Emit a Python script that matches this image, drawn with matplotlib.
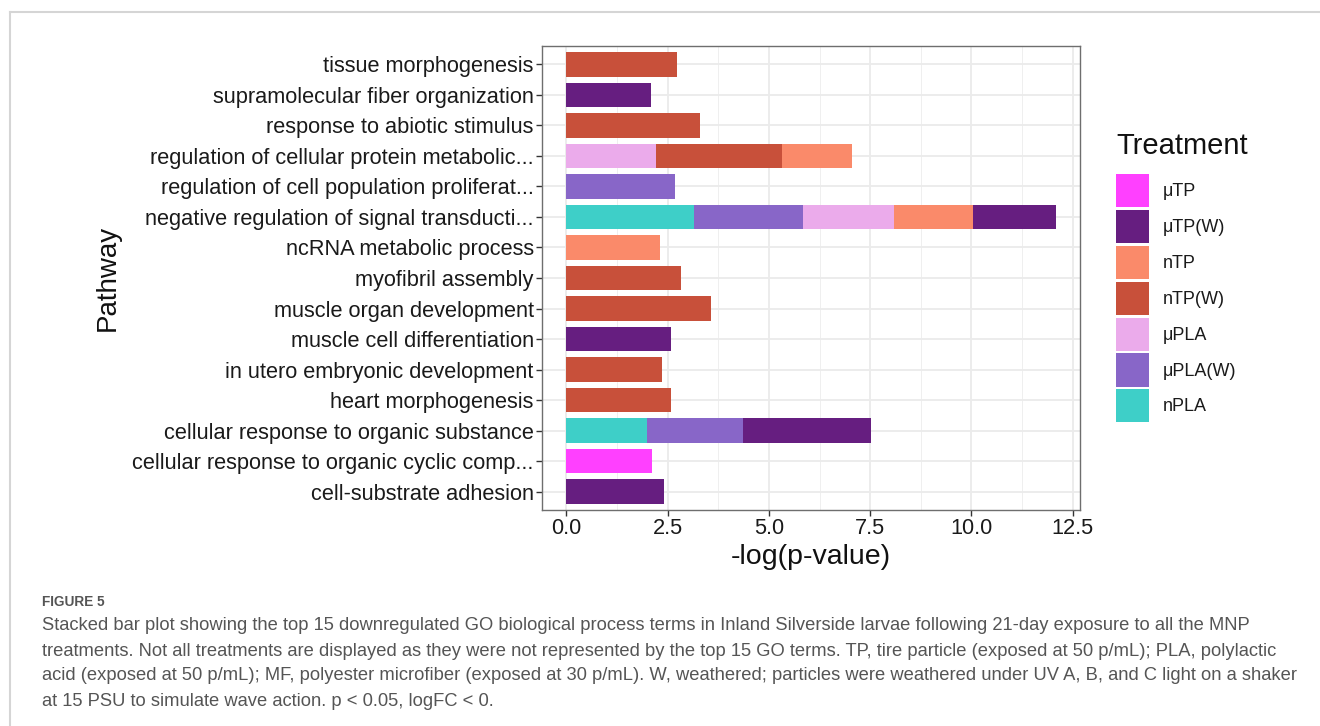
import matplotlib
matplotlib.use("Agg")
import matplotlib.pyplot as plt
from matplotlib.patches import Patch
from matplotlib.ticker import MultipleLocator
import numpy as np

pathways = [
    "tissue morphogenesis",
    "supramolecular fiber organization",
    "response to abiotic stimulus",
    "regulation of cellular protein metabolic...",
    "regulation of cell population proliferat...",
    "negative regulation of signal transducti...",
    "ncRNA metabolic process",
    "myofibril assembly",
    "muscle organ development",
    "muscle cell differentiation",
    "in utero embryonic development",
    "heart morphogenesis",
    "cellular response to organic substance",
    "cellular response to organic cyclic comp...",
    "cell-substrate adhesion",
]

treatments = ["\u03bcTP", "\u03bcTP(W)", "nTP", "nTP(W)", "\u03bcPLA", "\u03bcPLA(W)", "nPLA"]
colors = ["#FF40FF", "#661E80", "#FA8A6A", "#C8503A", "#EBABEB", "#8866C8", "#3ECFC8"]

uTP    = [0, 0, 0, 0, 0, 0, 0, 0, 0, 0, 0, 0, 0, 2.11, 0]
uTP_W  = [0, 2.08, 0, 0, 0, 2.04, 0, 0, 0, 2.58, 0, 0, 3.18, 0, 2.42]
nTP    = [0, 0, 0, 1.73, 0, 1.96, 2.31, 0, 0, 0, 0, 0, 0, 0, 0]
nTP_W  = [2.73, 0, 3.29, 3.11, 0, 0, 0, 2.83, 3.58, 0, 2.35, 2.58, 0, 0, 0]
uPLA   = [0, 0, 0, 2.22, 0, 2.24, 0, 0, 0, 0, 0, 0, 0, 0, 0]
uPLA_W = [0, 0, 0, 0, 2.68, 2.68, 0, 0, 0, 0, 0, 0, 2.35, 0, 0]
nPLA   = [0, 0, 0, 0, 0, 3.16, 0, 0, 0, 0, 0, 0, 2.00, 0, 0]

series = [uTP, uTP_W, nTP, nTP_W, uPLA, uPLA_W, nPLA]

x_ticks = [0.0, 2.5, 5.0, 7.5, 10.0, 12.5]
x_ticklabels = ["0.0", "2.5", "5.0", "7.5", "10.0", "12.5"]

caption_title = "FIGURE 5"
caption_lines = [
    "Stacked bar plot showing the top 15 downregulated GO biological process terms in Inland Silverside larvae following 21-day exposure to all the MNP",
    "treatments. Not all treatments are displayed as they were not represented by the top 15 GO terms. TP, tire particle (exposed at 50 p/mL); PLA, polylactic",
    "acid (exposed at 50 p/mL); MF, polyester microfiber (exposed at 30 p/mL). W, weathered; particles were weathered under UV A, B, and C light on a shaker",
    "at 15 PSU to simulate wave action. p < 0.05, logFC < 0.",
]

plt.rcParams['font.family'] = ['Liberation Sans', 'DejaVu Sans']

W, H = 1320, 726
fig = plt.figure(figsize=(W / 100, H / 100), dpi=100)

# outer frame lines
fig.add_artist(plt.Line2D([10 / W, 10 / W], [0, 1 - 12 / H], color="#d5d5d5", lw=1.5))
fig.add_artist(plt.Line2D([10 / W, 1], [1 - 12 / H, 1 - 12 / H], color="#d5d5d5", lw=1.5))

L, R, T, B = 542, 1080, 46, 510
ax = fig.add_axes([L / W, 1 - B / H, (R - L) / W, (B - T) / H])

n = len(pathways)
ypos = np.arange(n)[::-1]  # top pathway at top

totals = np.sum(np.array(series), axis=0)
left = np.zeros(n)
# stacking order: reverse of legend order (nPLA leftmost)
for idx in range(len(treatments) - 1, -1, -1):
    vals = np.array(series[idx], dtype=float)
    mask = vals > 0
    ax.barh(ypos[mask], vals[mask], left=left[mask], height=0.8,
            color=colors[idx], edgecolor="none", zorder=3)
    left = left + vals

xmax = totals.max()
pad = xmax * 0.05
ax.set_xlim(-pad, xmax + pad)
ax.set_ylim(-0.6, n - 1 + 0.6)

ax.set_xticks(x_ticks)
ax.set_xticklabels(x_ticklabels)
ax.xaxis.set_minor_locator(MultipleLocator(1.25))
ax.set_yticks(ypos)
ax.set_yticklabels(pathways)

ax.grid(which="major", color="#EBEBEB", lw=1.3, zorder=0)
ax.grid(which="minor", axis="x", color="#EFEFEF", lw=0.7, zorder=0)
ax.set_axisbelow(True)

for s in ax.spines.values():
    s.set_color("#6e6e6e")
    s.set_linewidth(1.0)

ax.tick_params(axis="both", which="major", length=4, width=1, color="#333333",
               labelsize=15.7, labelcolor="#1a1a1a", pad=2)
ax.tick_params(axis="both", which="minor", length=0)

ax.set_xlabel("-log(p-value)", fontsize=20.5, color="#111111", labelpad=3)
ax.set_ylabel("Pathway", fontsize=20, color="#111111", labelpad=8)

# legend
fig.text(1116 / W, 1 - 146 / H, "Treatment", fontsize=21, color="#111111",
         ha="left", va="center")
handles = [Patch(facecolor=c, edgecolor="none") for c in colors]
leg = fig.legend(handles, treatments, loc="upper left",
                 bbox_to_anchor=(1116 / W, 1 - 174 / H), frameon=False,
                 fontsize=13, handlelength=33 / (13 * 100 / 72),
                 handleheight=2.45, labelspacing=0.15,
                 handletextpad=0.75, borderpad=0, borderaxespad=0)
for t in leg.get_texts():
    t.set_color("#1a1a1a")

cap_family = ['Liberation Sans', 'DejaVu Sans']
fig.text(42 / W, 1 - 602 / H, caption_title, fontsize=9.8, color="#555555",
         fontweight="bold", family=cap_family, va="center", ha="left")
cap_y = [626, 651, 676, 701]
for yy, line in zip(cap_y, caption_lines):
    fig.text(42 / W, 1 - yy / H, line, fontsize=13.25, color="#555555",
             family=cap_family, va="center", ha="left")

fig.savefig("out.png", dpi=100)
